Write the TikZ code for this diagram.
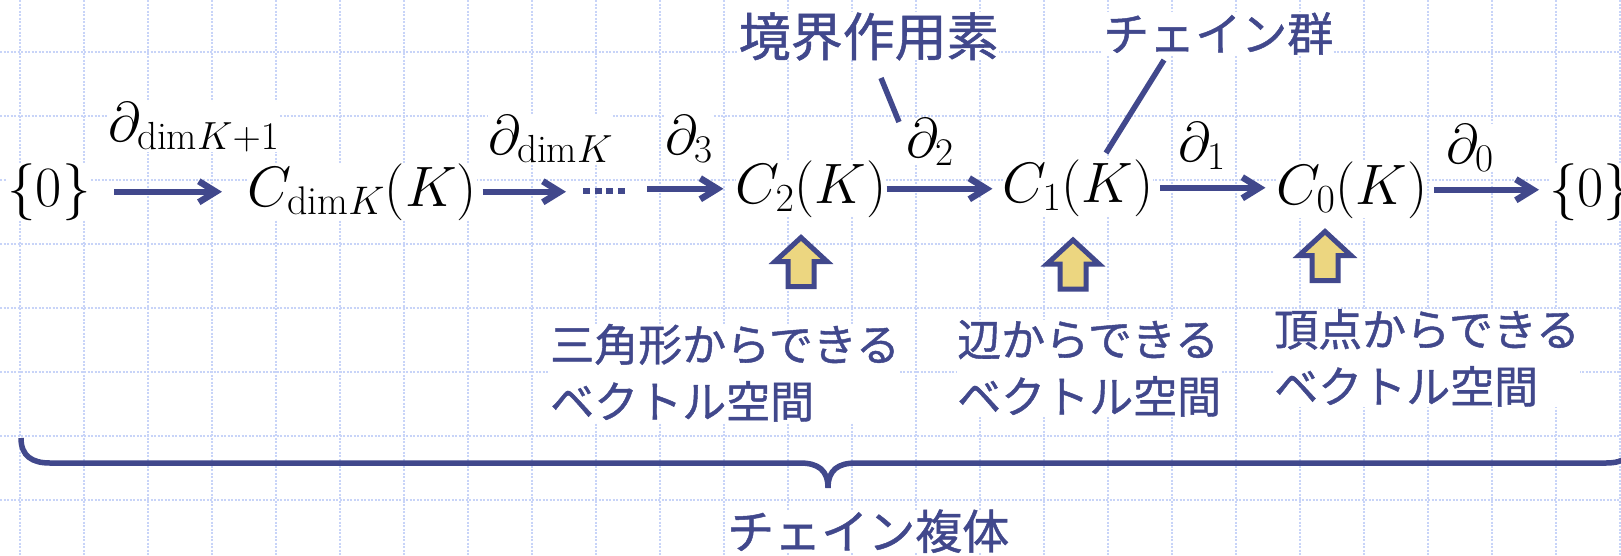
\RequirePackage{fix-cm}
\documentclass[tikz,border=0pt]{standalone}
\usepackage{fontspec}
\newfontfamily\jp[FakeBold=1]{Noto Sans CJK JP}
\usetikzlibrary{arrows.meta}
\definecolor{ink}{RGB}{65,72,140}
\definecolor{gridc}{RGB}{200,212,248}
\definecolor{yel}{RGB}{236,214,128}
\begin{document}
\begin{tikzpicture}[x=1pt,y=-1pt,
  m/.style={inner sep=0pt, fill=white, font=\fontsize{57}{60}\selectfont, anchor=base},
  lab/.style={inner sep=0pt, fill=white, font=\fontsize{56}{60}\selectfont, anchor=base west},
  arr/.style={draw=ink, line width=6.5pt, -{Straight Barb[length=17pt,width=21pt]}},
  jt/.style={inner sep=0pt, text=ink, fill=white, anchor=base west, align=left},
  callout/.style={draw=ink, line width=5.5pt},
  ublk/.pic={\path[draw=ink, fill=yel, line width=5pt, line join=miter]
     (0,0) -- (26,24) -- (13,24) -- (13,49) -- (-13,49) -- (-13,24) -- (-26,24) -- cycle;}
]
\useasboundingbox (0,0) rectangle (1621,555);
\fill[white] (0,0) rectangle (1621,555);
% grid
\foreach \i in {0,...,25} {
  \draw[gridc, line width=2pt, dash pattern=on 2pt off 1.5pt] (20+64*\i,0) -- (20+64*\i,555);
}
\foreach \j in {0,...,7} {
  \draw[gridc, line width=2pt, dash pattern=on 2pt off 1.5pt] (0,52+64*\j) -- (1621,52+64*\j);
}
% main row
\node[m] (z1) at (49,206) {$\{0\}$};
\node[m] (cdim) at (362,206) {$C_{\mathrm{dim}K}(K)$};
\node[m] (c2) at (811,203) {$C_2(K)$};
\node[m] (c1) at (1078,202) {$C_1(K)$};
\node[m] (c0) at (1352,204) {$C_0(K)$};
\node[m, anchor=base west] (z2) at (1549,206) {$\{0\}$};
% labels
\node[lab] (l1) at (108,141) {$\partial_{\mathrm{dim}K+1}$};
\node[lab] (l2) at (488,154) {$\partial_{\mathrm{dim}K}$};
\node[lab] (l3) at (665,154) {$\partial_3$};
\node[lab] (l4) at (906,157) {$\partial_2$};
\node[lab] (l5) at (1178,161) {$\partial_1$};
\node[lab] (l6) at (1446,163) {$\partial_0$};
% dots
\coordinate (d1) at (583,191);
\coordinate (d2) at (625.1,191);
\draw[ink, line width=6.5pt, dash pattern=on 7pt off 4.7pt] (d1) -- (d2);
% arrows
\draw[arr, shorten <=23.5pt, shorten >=25pt] (z1.east) -- (z1.east -| cdim.west);
\draw[arr, shorten <=5.6pt, shorten >=17pt] (cdim.east) -- (cdim.east -| d1);
\draw[arr, shorten <=22pt, shorten >=12pt] (d2 |- c2.west) -- (c2.west);
\draw[arr, shorten <=0pt, shorten >=10pt] (c2.east) -- (c2.east -| c1.west);
\draw[arr, shorten <=6.6pt, shorten >=11pt] (c1.east) -- (c1.east -| c0.west);
\draw[arr, shorten <=6.6pt, shorten >=10pt] (c0.east) -- (c0.east -| z2.west);
% callouts
\node[jt, font=\jp\fontsize{52}{60}\selectfont] (bdry) at (738.5,56) {境界作用素};
\node[jt, font=\jp\fontsize{46}{54}\selectfont] (chg) at (1103,51) {チェイン群};
\coordinate (b1) at (881,78);
\coordinate (b2) at (899,122);
\coordinate (g1) at (1164,60);
\coordinate (g2) at (1106,153);
\draw[callout] (b1) -- (b2);
\draw[callout] (g1) -- (g2);
% descriptions (base anchor = last line)
\node[jt, font=\jp\fontsize{44}{57}\selectfont] (tri) at (550,418) {三角形からできる\\ベクトル空間};
\node[jt, font=\jp\fontsize{44}{57}\selectfont] (edg) at (957,413) {辺からできる\\ベクトル空間};
\node[jt, font=\jp\fontsize{44}{57}\selectfont] (vtx) at (1274,403) {頂点からできる\\ベクトル空間};
% block arrows
\pic (ua1) at (801,237.5) {ublk};
\pic (ua2) at (1073,240) {ublk};
\pic (ua3) at (1325,231.5) {ublk};
% brace
\draw[ink, line width=5.5pt] (21,438) .. controls (21,456) and (32,463) .. (50,463) -- (800,463)
  .. controls (818,463) and (828,470) .. (828,488)
  .. controls (828,470) and (838,463) .. (856,463) -- (1606,463)
  .. controls (1624,463) and (1635,456) .. (1635,438);
\node[jt, font=\jp\fontsize{47}{54}\selectfont] (cc) at (727,549) {チェイン複体};
\end{tikzpicture}
\end{document}
